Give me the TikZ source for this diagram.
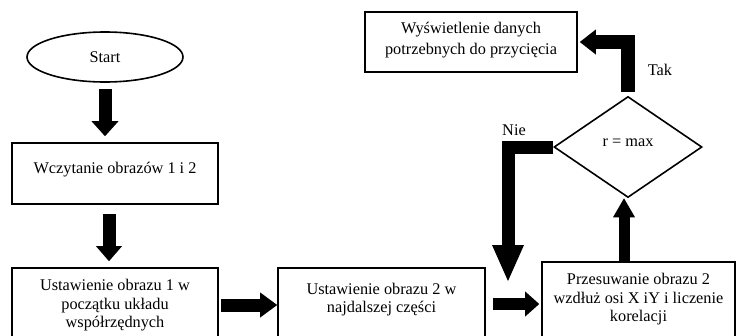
\documentclass[tikz,border=0pt]{standalone}
\usepackage{fontspec}
\setmainfont{Liberation Serif}
\usetikzlibrary{arrows.meta,shapes.geometric,calc}
\begin{document}
\begin{tikzpicture}[x=1pt,y=-1pt,
  box/.style={draw, line width=1.6pt, rectangle, inner sep=0pt, fill=white},
  txt/.style={align=center, font=\fontsize{16.3}{18.5}\selectfont},
  blk/.style n args={3}{line width=#1, line cap=butt, line join=miter,
     -{Triangle[width=#2,length=#3,line width=0pt]}}]
\useasboundingbox (0,0) rectangle (736,335);
\clip (0,0) rectangle (736,335);

% nodes
\node[draw, line width=1.6pt, ellipse, minimum width=156pt, minimum height=50pt,
      inner sep=0pt, txt] (start) at (105,57) {Start};
\node[box, minimum width=206pt, minimum height=61pt,
      label={[txt,name=wczt,yshift=4pt]center:Wczytanie obrazów 1 i 2}] (wcz) at (115,173.5) {};
\node[box, minimum width=206pt, minimum height=77pt,
      label={[txt,name=ust1t,yshift=1pt]center:Ustawienie obrazu 1 w\\początku układu\\współrzędnych}] (ust1) at (115,306.5) {};
\node[box, minimum width=207pt, minimum height=77pt,
      label={[txt,name=ust2t,yshift=7pt]center:Ustawienie obrazu 2 w\\najdalszej części}] (ust2) at (381.5,306.5) {};
\node[box, minimum width=193pt, minimum height=83pt,
      label={[txt,name=prt,yshift=4pt]center:Przesuwanie obrazu 2\\wzdłuż osi X iY i liczenie\\korelacji}] (prz) at (638.5,303.5) {};
\node[draw, line width=1.6pt, diamond, minimum width=148pt, minimum height=101pt,
      inner sep=0pt, fill=white,
      label={[txt,name=diat,yshift=4pt]center:r = max}] (dia) at (628,147) {};
\node[box, minimum width=212pt, minimum height=60pt,
      label={[txt,font=\fontsize{16.3}{20.5}\selectfont,name=wyst,yshift=2pt]center:Wyświetlenie danych\\potrzebnych do przycięcia}] (wys) at (471,42) {};
\node[txt] (tak) at (660,70) {Tak};
\node[txt] (nie) at (514,130) {Nie};

% helper coordinates
\coordinate (a2s) at ($(wcz.south)+(-6,0)$);
\coordinate (ups) at ($(dia.south)+(-4,0)$);
\coordinate (nieend) at (508,281);
\coordinate (a3s) at ($(ust1.east)+(0,-1.5)$);
\coordinate (a4s) at ($(ust2.east)+(0,-2.5)$);

% connectors
\draw[blk={13pt}{27pt}{15pt}, shorten <=6pt, shorten >=6pt]
  (start.south) -- (start.south |- wcz.north);
\draw[blk={13pt}{26pt}{15pt}, shorten <=9pt, shorten >=6pt]
  (a2s) -- (a2s |- ust1.north);
\draw[blk={13pt}{25pt}{17pt}, shorten <=2pt]
  (a3s) -- (a3s -| ust2.west);
\draw[blk={12pt}{25pt}{14pt}, shorten <=7pt, shorten >=2pt]
  (a4s) -- (a4s -| prz.west);
\draw[blk={11pt}{22pt}{19pt}]
  (ups |- prz.north) -- (ups);
\draw[blk={14pt}{25pt}{16pt}, shorten <=4pt, shorten >=2pt]
  (dia.north) |- (wys.east);
\draw[blk={13pt}{32pt}{36pt}]
  (dia.west) -| (nieend);
\end{tikzpicture}
\end{document}
